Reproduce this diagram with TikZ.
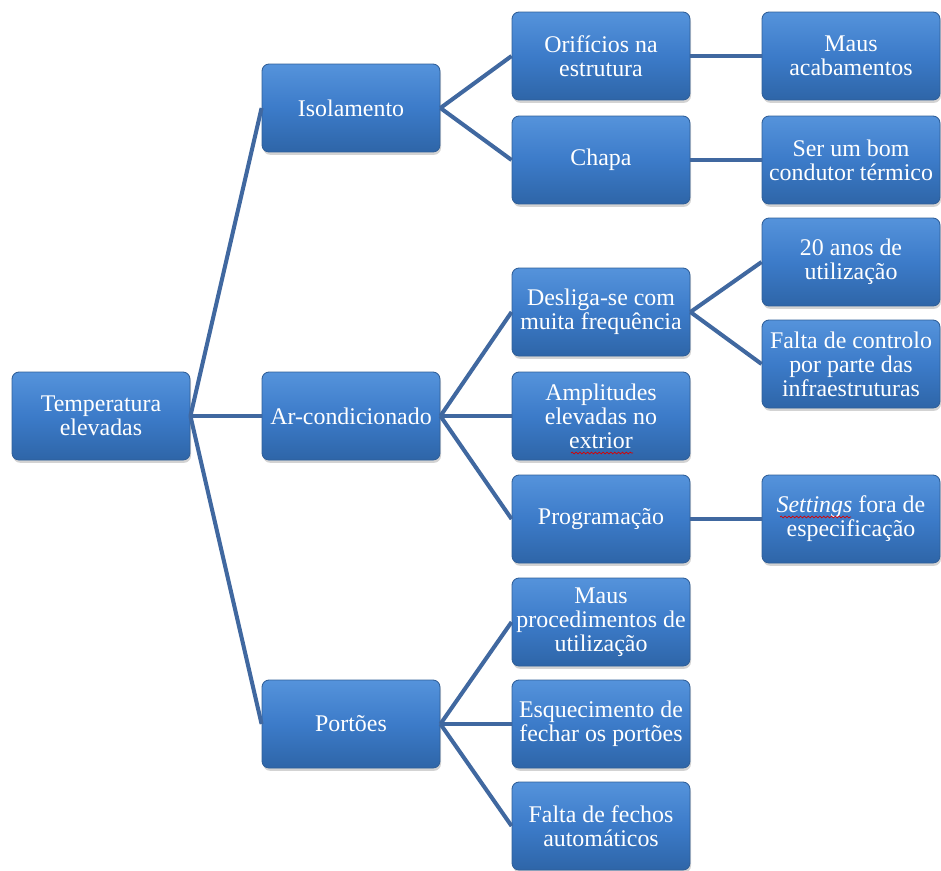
\documentclass[tikz,border=0pt]{standalone}
\usepackage{fontspec}
\setmainfont{Liberation Serif}
\usetikzlibrary{shadows,decorations.pathmorphing}
\definecolor{boxtop}{HTML}{5593DB}
\definecolor{boxmid}{HTML}{3C7BC9}
\definecolor{boxbot}{HTML}{2E65A8}
\definecolor{boxedge}{HTML}{2F5F99}
\definecolor{linkblue}{HTML}{4068A0}
\begin{document}
\begin{tikzpicture}[x=0.02cm,y=-0.02cm,
  box/.style={draw=boxedge,line width=0.5pt,rounded corners=4pt,
    top color=boxtop,bottom color=boxbot,middle color=boxmid,
    text=white,minimum width=3.56cm,minimum height=1.76cm,inner sep=1pt,
    align=center,font=\fontsize{13.6}{13.6}\selectfont,
    drop shadow={opacity=0.35,shadow xshift=0.6pt,shadow yshift=-1.6pt}},
  link/.style={draw=linkblue,line width=2.3pt},
  squig/.style={draw=red!85!black,line width=0.4pt,decorate,
    decoration={snake,amplitude=0.5pt,segment length=2.2pt}}]
\useasboundingbox (0,0) rectangle (941,870);
% root
\node[box] (temp) at (101,416) {Temperatura\\elevadas};
% causes
\node[box] (iso) at (351,108) {Isolamento};
\node[box] (ar) at (351,416) {Ar-condicionado};
\node[box] (port) at (351,724) {Portões};
% sub-causes
\node[box] (orif) at (601,56) {Orifícios na\\estrutura};
\node[box] (chapa) at (601,160) {Chapa};
\node[box] (desl) at (601,312) {Desliga-se com\\muita frequência};
\node[box] (ampl) at (601,416) {Amplitudes\\elevadas no\\extrior};
\node[box] (prog) at (601,519) {Programação};
\node[box] (maus) at (601,622) {Maus\\procedimentos de\\utilização};
\node[box] (esq) at (601,724) {Esquecimento de\\fechar os portões};
\node[box] (fecho) at (601,826) {Falta de fechos\\automáticos};
% root causes
\node[box] (acab) at (851,56) {Maus\\acabamentos};
\node[box] (cond) at (851,160) {Ser um bom\\condutor térmico};
\node[box] (anos) at (851,262) {20 anos de\\utilização};
\node[box] (ctrl) at (851,364) {Falta de controlo\\por parte das\\infraestruturas};
\node[box] (sett) at (851,519) {\textit{Settings} fora de\\especificação};
% links
\draw[link] (temp.east)--(iso.west);
\draw[link] (temp.east)--(ar.west);
\draw[link] (temp.east)--(port.west);
\draw[link] (iso.east)--(orif.west);
\draw[link] (iso.east)--(chapa.west);
\draw[link] (ar.east)--(desl.west);
\draw[link] (ar.east)--(ampl.west);
\draw[link] (ar.east)--(prog.west);
\draw[link] (port.east)--(maus.west);
\draw[link] (port.east)--(esq.west);
\draw[link] (port.east)--(fecho.west);
\draw[link] (orif.east)--(acab.west);
\draw[link] (chapa.east)--(cond.west);
\draw[link] (desl.east)--(anos.west);
\draw[link] (desl.east)--(ctrl.west);
\draw[link] (prog.east)--(sett.west);
% spelling marks
\draw[squig] (571,453)--(633,453);
\draw[squig] (780,517)--(851,517);
\end{tikzpicture}
\end{document}
